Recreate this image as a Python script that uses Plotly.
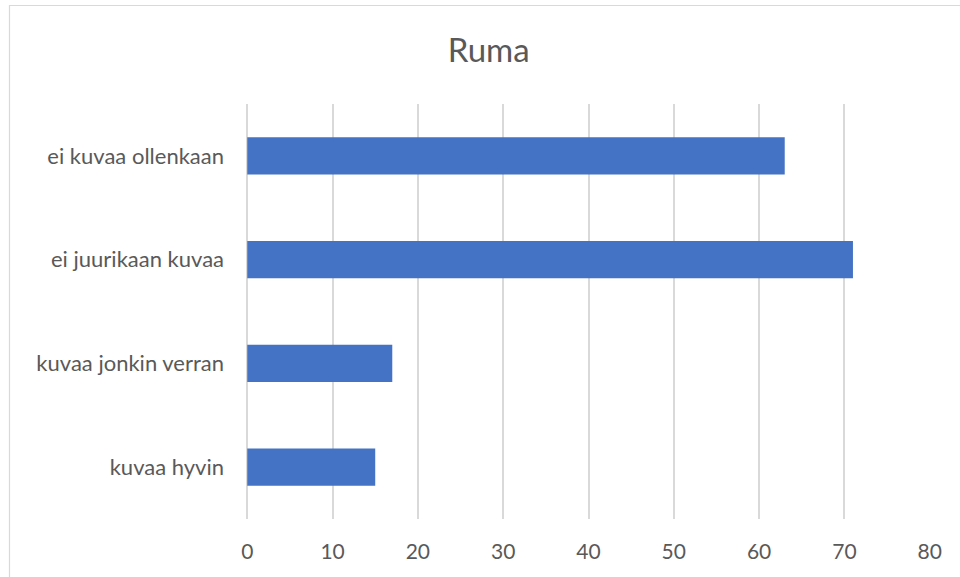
import plotly.graph_objects as go

# Survey responses for the attribute "Ruma"
categories = ["kuvaa hyvin", "kuvaa jonkin verran", "ei juurikaan kuvaa", "ei kuvaa ollenkaan"]
counts = [15, 17, 71, 63]
x_ticks = [0, 10, 20, 30, 40, 50, 60, 70, 80]

TEXT = "#595959"
GRID = "#d9d9d9"
FONT = "Lato, Carlito, 'Open Sans', sans-serif"

fig = go.Figure(
    go.Bar(
        x=counts,
        y=categories,
        orientation="h",
        marker=dict(color="#4472c4", line=dict(width=0)),
        width=0.36,
        hoverinfo="x+y",
    )
)

fig.update_layout(
    width=960,
    height=577,
    margin=dict(l=247, r=30, t=104, b=58),
    paper_bgcolor="white",
    plot_bgcolor="white",
    showlegend=False,
    font=dict(family=FONT, color=TEXT, size=21),
    title=dict(
        text="Ruma",
        font=dict(family=FONT, size=33, color=TEXT),
        x=0.509,
        xref="container",
        xanchor="center",
        y=0.913,
        yref="container",
        yanchor="middle",
    ),
    xaxis=dict(
        range=[-0.03, 80.03],
        tickvals=x_ticks,
        showgrid=True,
        gridcolor=GRID,
        gridwidth=1.5,
        zeroline=True,
        zerolinecolor=GRID,
        zerolinewidth=1.5,
        showline=False,
        ticks="",
        ticklabelstandoff=18,
        tickfont=dict(size=21, color=TEXT),
        fixedrange=True,
    ),
    yaxis=dict(
        categoryorder="array",
        categoryarray=categories,
        range=[-0.5, 3.5],
        showgrid=False,
        zeroline=False,
        showline=False,
        ticks="",
        ticklabelstandoff=22,
        tickfont=dict(size=22, color=TEXT),
        fixedrange=True,
    ),
    shapes=[
        # outer chart frame
        dict(
            type="rect",
            xref="paper",
            yref="paper",
            x0=(9.5 - 247) / 683,
            x1=1.2,
            y0=-0.3,
            y1=1 + (104 - 5.5) / 415,
            line=dict(color=GRID, width=1.2),
            fillcolor="rgba(0,0,0,0)",
            layer="below",
        )
    ],
)

fig.write_html("out.html")
